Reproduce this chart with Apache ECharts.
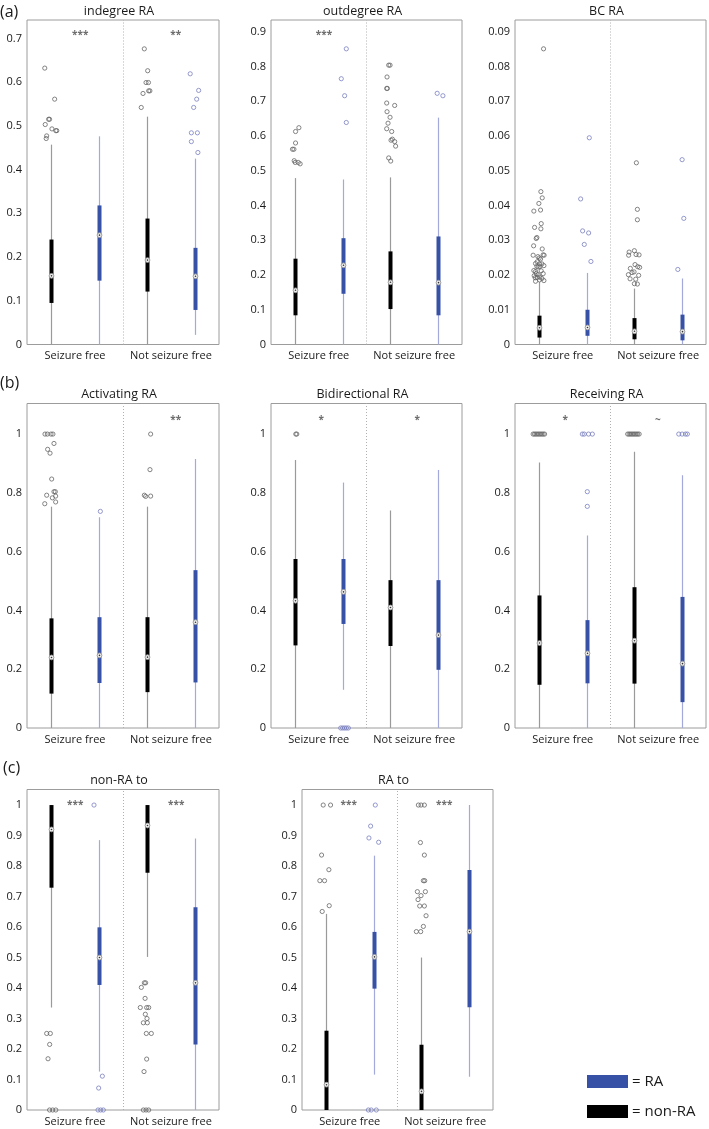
<!DOCTYPE html>
<html>
<head>
<meta charset="utf-8">
<script src="https://cdn.jsdelivr.net/npm/echarts@6/dist/echarts.min.js"></script>
<style>html,body{margin:0;padding:0;background:#fff}#c{width:709px;height:1129px}</style>
</head>
<body>
<div id="c"></div>
<script>
// ---------- data ----------
const categories = ['Seizure free', 'Not seizure free'];
const groupNames = ['non-RA', 'RA'];
// box order: 0 = SF non-RA, 1 = SF RA, 2 = NSF non-RA, 3 = NSF RA
// each box: [lowWhisker, q1, median, q3, highWhisker]
const indegreeBoxes = [
  [0, 0.095, 0.157, 0.240, 0.457],
  [0, 0.146, 0.250, 0.318, 0.476],
  [0, 0.121, 0.193, 0.288, 0.521],
  [0.022, 0.079, 0.156, 0.221, 0.425]
];
// outliers: [box, jitter, value]
const indegreeOutliers = [
  [0,-0.13,0.632],[0,0.076,0.561],[0,-0.05,0.515],[0,-0.03,0.515],[0,-0.12,0.503],[0,0.02,0.493],[0,0.10,0.489],[0,0.12,0.489],[0,-0.09,0.477],[0,-0.10,0.471],
  [2,-0.056,0.676],[2,0.014,0.626],[2,-0.02,0.599],[2,0.03,0.599],[2,-0.083,0.574],[2,0.035,0.580],[2,0.06,0.580],[2,-0.12,0.542],
  [3,-0.10,0.619],[3,0.076,0.581],[3,0.035,0.561],[3,-0.028,0.542],[3,-0.076,0.484],[3,0.05,0.484],[3,-0.076,0.464],[3,0.06,0.439]
];
const indegreeSig = [['***',1.11,0.712],['**',3.1,0.712]];

const outdegreeBoxes = [
  [0, 0.084, 0.156, 0.247, 0.479],
  [0, 0.146, 0.228, 0.306, 0.475],
  [0, 0.102, 0.179, 0.268, 0.481],
  [0, 0.084, 0.178, 0.311, 0.653]
];
const outdegreeOutliers = [
  [0,0.084,0.624],[0,0.014,0.613],[0,0.014,0.580],[0,-0.05,0.562],[0,-0.02,0.562],[0,-0.014,0.529],[0,0.007,0.524],[0,0.07,0.524],[0,0.11,0.520],
  [1,0.077,0.851],[1,-0.028,0.765],[1,0.042,0.716],[1,0.077,0.639],
  [2,-0.035,0.804],[2,-0.007,0.804],[2,-0.07,0.770],[2,-0.077,0.737],[2,-0.063,0.737],[2,-0.077,0.695],[2,0.09,0.688],[2,-0.07,0.670],[2,-0.007,0.654],[2,-0.049,0.637],[2,-0.077,0.621],[2,0.028,0.613],[2,0.042,0.591],[2,0.014,0.588],[2,0.09,0.584],[2,0.11,0.571],[2,-0.035,0.537],[2,0.007,0.528],
  [3,-0.02,0.723],[3,0.1,0.716]
];
const outdegreeSig = [['***',1.108,0.895]];

const bcBoxes = [
  [0, 0.0020, 0.0048, 0.0083, 0.0180],
  [0, 0.0025, 0.0049, 0.0100, 0.0206],
  [0, 0.0015, 0.0038, 0.0076, 0.0161],
  [0, 0.0012, 0.0037, 0.0086, 0.0190]
];
const bcOutliers = [
  [0,0.098,0.0851],[0,0.042,0.0440],[0,0.07,0.0422],[0,0,0.0406],[0,-0.105,0.0384],[0,0.035,0.0387],[0,-0.09,0.0337],[0,0.049,0.0348],[0,0.042,0.0333],[0,-0.056,0.0305],[0,-0.042,0.0308],[0,-0.11,0.0284],[0,0.07,0.0275],[0,-0.12,0.0257],[0,-0.02,0.0253],[0,0.007,0.0249],[0,0.09,0.0258],[0,0.11,0.0257],[0,0.035,0.0246],[0,-0.035,0.0238],[0,-0.07,0.0233],[0,0.014,0.0232],[0,0.063,0.0232],[0,-0.042,0.0225],[0,-0.014,0.0223],[0,0.02,0.0224],[0,0.105,0.0227],[0,-0.105,0.0213],[0,-0.07,0.0210],[0,0.049,0.0212],[0,-0.056,0.0204],[0,-0.098,0.0198],[0,-0.014,0.0201],[0,0.09,0.0204],[0,-0.077,0.0192],[0,-0.035,0.0193],[0,0.02,0.0194],[0,0.063,0.0190],[0,-0.07,0.0182],[0,0.105,0.0184],[0,0.014,0.0186],
  [1,0.056,0.0595],[1,-0.125,0.0419],[1,-0.084,0.0327],[1,0.042,0.0321],[1,-0.049,0.0288],[1,0.09,0.0239],
  [2,0.042,0.0523],[2,0.063,0.0389],[2,0.063,0.0359],[2,0,0.0270],[2,-0.11,0.0266],[2,-0.12,0.0257],[2,0.014,0.0230],[2,0.07,0.0224],[2,0.11,0.0222],[2,-0.084,0.0219],[2,-0.007,0.0209],[2,-0.125,0.0201],[2,0.09,0.0199],[2,-0.09,0.0189],[2,0.028,0.0188],[2,0,0.0175],[2,0.063,0.0174],[2,-0.049,0.0207],[2,0.098,0.0258],[2,0.035,0.0259],
  [3,0,0.0532],[3,0.035,0.0363],[3,-0.09,0.0216]
];
const bcSig = [];

const activatingBoxes = [
  [0, 0.117, 0.240, 0.373, 0.753],
  [0, 0.153, 0.247, 0.377, 0.717],
  [0, 0.122, 0.241, 0.377, 0.753],
  [0, 0.155, 0.360, 0.537, 0.915]
];
const activatingOutliers = [
  [0,-0.125,1.0],[0,-0.076,1.0],[0,0,1.0],[0,0.04,1.0],[0,0.062,0.968],[0,-0.07,0.948],[0,-0.02,0.935],[0,0.014,0.847],[0,0.062,0.804],[0,0.09,0.804],[0,-0.09,0.792],[0,0.097,0.789],[0,0.028,0.783],[0,-0.13,0.763],[0,0.097,0.769],
  [1,0.028,0.737],
  [2,0.076,1.0],[2,0.062,0.879],[2,-0.055,0.792],[2,-0.028,0.788],[2,0.076,0.789]
];
const activatingSig = [['**',3.1,1.055]];

const bidirectionalBoxes = [
  [0, 0.281, 0.433, 0.575, 0.912],
  [0.130, 0.354, 0.463, 0.575, 0.835],
  [0, 0.279, 0.410, 0.503, 0.740],
  [0, 0.198, 0.316, 0.503, 0.878]
];
const bidirectionalOutliers = [
  [0,0.02,1.0],[0,0.04,1.0],
  [1,-0.04,0],[1,0.0,0],[1,0.04,0],[1,0.08,0],[1,0.12,0]
];
const bidirectionalSig = [['*',1.05,1.055],['*',3.06,1.055]];

const receivingBoxes = [
  [0, 0.147, 0.289, 0.451, 0.903],
  [0, 0.152, 0.254, 0.367, 0.655],
  [0, 0.151, 0.297, 0.479, 0.940],
  [0, 0.088, 0.219, 0.446, 0.860]
];
const receivingOutliers = [
  [0,-0.12,1],[0,-0.09,1],[0,-0.06,1],[0,-0.03,1],[0,0,1],[0,0.03,1],[0,0.06,1],[0,0.09,1],[0,0.12,1],
  [1,0.014,0.804],[1,0.014,0.754],[1,-0.09,1],[1,-0.05,1],[1,0.04,1],[1,0.12,1],
  [2,-0.14,1],[2,-0.11,1],[2,-0.08,1],[2,-0.05,1],[2,-0.02,1],[2,0.01,1],[2,0.04,1],[2,0.07,1],[2,0.10,1],
  [3,-0.07,1],[3,0,1],[3,0.07,1],[3,0.11,1]
];
const receivingSig = [['*',1.05,1.055],['~',2.99,1.055]];

const nonRaToBoxes = [
  [0.336, 0.729, 0.920, 1.0, 1.0],
  [0.126, 0.410, 0.500, 0.599, 0.885],
  [0.502, 0.778, 0.933, 1.0, 1.0],
  [0, 0.215, 0.417, 0.665, 0.890]
];
const nonRaToOutliers = [
  [0,-0.09,0.251],[0,-0.014,0.251],[0,-0.028,0.215],[0,-0.062,0.168],[0,-0.03,0],[0,0.035,0],[0,0.1,0],
  [1,-0.104,1.0],[1,0.07,0.111],[1,-0.007,0.072],[1,-0.02,0],[1,0.035,0],[1,0.09,0],
  [2,-0.055,0.417],[2,-0.028,0.417],[2,-0.118,0.402],[2,-0.04,0.366],[2,-0.14,0.336],[2,-0.007,0.336],[2,0.035,0.336],[2,-0.035,0.314],[2,0,0.300],[2,-0.076,0.286],[2,0.007,0.286],[2,-0.014,0.251],[2,0.09,0.251],[2,-0.007,0.167],[2,-0.062,0.126],[2,-0.076,0],[2,-0.02,0],[2,0.035,0]
];
const nonRaToSig = [['***',1.005,1.005],['***',3.11,1.005]];

const raToBoxes = [
  [0, 0, 0.083, 0.260, 0.643],
  [0.116, 0.398, 0.502, 0.584, 0.834],
  [0, 0, 0.061, 0.214, 0.500],
  [0.109, 0.337, 0.585, 0.787, 1.0]
];
const raToOutliers = [
  [0,-0.056,1.0],[0,0.098,1.0],[0,-0.09,0.836],[0,0.063,0.788],[0,-0.126,0.752],[0,-0.028,0.752],[0,-0.077,0.651],[0,0.07,0.670],
  [1,0.035,1.0],[1,-0.063,0.931],[1,-0.098,0.892],[1,0.105,0.878],[1,-0.11,0],[1,-0.05,0],[1,0.056,0],
  [2,-0.063,1.0],[2,-0.007,1.0],[2,0.063,1.0],[2,-0.02,0.877],[2,0.063,0.836],[2,0.042,0.752],[2,0.07,0.752],[2,-0.084,0.716],[2,0.084,0.716],[2,-0.007,0.703],[2,-0.07,0.69],[2,-0.035,0.669],[2,0.063,0.669],[2,0.098,0.637],[2,0.042,0.602],[2,-0.105,0.585],[2,-0.014,0.585]
];
const raToSig = [['***',0.977,1.005],['***',2.98,1.005]];

// ---------- layout / styles ----------
const FONT = '"Open Sans", "DejaVu Sans", sans-serif';
const TXT = '#1a1a1a';
const STYLE = {
  'non-RA': { box: '#000000', whisker: '#9a9a9a', outlier: '#666666' },
  'RA': { box: '#3651a6', whisker: '#a3aadb', outlier: '#7a80c0' }
};

const panels = [
  { title: 'indegree RA', boxes: indegreeBoxes, outliers: indegreeOutliers, sig: indegreeSig, yMax: 0.742, yStep: 0.1, grid: { left: 27, top: 20, width: 192, height: 324.5 } },
  { title: 'outdegree RA', boxes: outdegreeBoxes, outliers: outdegreeOutliers, sig: outdegreeSig, yMax: 0.934, yStep: 0.1, grid: { left: 271, top: 20, width: 191, height: 324.5 } },
  { title: 'BC RA', boxes: bcBoxes, outliers: bcOutliers, sig: bcSig, yMax: 0.0934, yStep: 0.01, grid: { left: 515, top: 20, width: 191, height: 324.5 } },
  { title: 'Activating RA', boxes: activatingBoxes, outliers: activatingOutliers, sig: activatingSig, yMax: 1.104, yStep: 0.2, grid: { left: 27, top: 403.5, width: 192, height: 324.5 } },
  { title: 'Bidirectional RA', boxes: bidirectionalBoxes, outliers: bidirectionalOutliers, sig: bidirectionalSig, yMax: 1.104, yStep: 0.2, grid: { left: 271, top: 403.5, width: 191, height: 324.5 } },
  { title: 'Receiving RA', boxes: receivingBoxes, outliers: receivingOutliers, sig: receivingSig, yMax: 1.104, yStep: 0.2, grid: { left: 515, top: 403.5, width: 191, height: 324.5 } },
  { title: 'non-RA to', boxes: nonRaToBoxes, outliers: nonRaToOutliers, sig: nonRaToSig, yMax: 1.051, yStep: 0.1, grid: { left: 27, top: 789.5, width: 192, height: 320.5 } },
  { title: 'RA to', boxes: raToBoxes, outliers: raToOutliers, sig: raToSig, yMax: 1.051, yStep: 0.1, grid: { left: 302, top: 789.5, width: 191, height: 320.5 } }
];
const panelLetters = [['(a)', 0, 12], ['(b)', 0, 383], ['(c)', 3, 768]];

function boxRender(kind) {
  const st = STYLE[kind];
  return function (params, api) {
    const x = api.value(0);
    const lo = api.coord([x, api.value(1)]);
    const q1 = api.coord([x, api.value(2)]);
    const md = api.coord([x, api.value(3)]);
    const q3 = api.coord([x, api.value(4)]);
    const hi = api.coord([x, api.value(5)]);
    const cx = Math.round(lo[0]) + 0.5;
    return {
      type: 'group',
      children: [
        { type: 'line', shape: { x1: cx, y1: lo[1], x2: cx, y2: hi[1] }, style: { stroke: st.whisker, lineWidth: 1.2 } },
        { type: 'rect', shape: { x: cx - 2, y: q3[1], width: 4, height: q1[1] - q3[1] }, style: { fill: st.box } },
        { type: 'circle', shape: { cx: cx, cy: md[1], r: 2.4 }, style: { fill: '#f0f0f0', stroke: '#9a9a9a', lineWidth: 0.9 } },
        { type: 'circle', shape: { cx: cx, cy: md[1], r: 0.8 }, style: { fill: '#333' } }
      ]
    };
  };
}

const grid = [], xAxis = [], yAxis = [], series = [], graphic = [];
panels.forEach(function (p, i) {
  grid.push(Object.assign({ show: true, borderColor: '#9c9c9c', borderWidth: 1, backgroundColor: 'transparent' }, p.grid));
  xAxis.push({ type: 'value', gridIndex: i, min: 0, max: 4, show: false });
  xAxis.push({
    type: 'category', gridIndex: i, position: 'bottom', data: categories,
    axisLine: { show: false }, axisTick: { show: false }, splitLine: { show: false },
    axisLabel: { interval: 0, hideOverlap: false, margin: 6, fontSize: 11, color: TXT, fontFamily: FONT }
  });
  yAxis.push({
    type: 'value', gridIndex: i, min: 0, max: p.yMax, interval: p.yStep,
    axisLine: { show: false }, axisTick: { show: false }, splitLine: { show: false },
    axisLabel: { margin: 5, fontSize: 11, color: TXT, fontFamily: FONT, showMaxLabel: false }
  });
  groupNames.forEach(function (g, gi) {
    const idx = [gi, gi + 2];
    const s = {
      type: 'custom', name: g, xAxisIndex: 2 * i, yAxisIndex: i,
      itemStyle: { color: STYLE[g].box },
      renderItem: boxRender(g),
      encode: { x: 0, y: [1, 2, 3, 4, 5] },
      data: idx.map(function (b) { return [b + 0.5].concat(p.boxes[b]); }),
      z: 2, silent: true
    };
    if (gi === 0) {
      s.markLine = {
        silent: true, symbol: 'none', label: { show: false },
        lineStyle: { type: [1, 2], color: '#b0b0b0', width: 1 },
        data: [{ xAxis: 2 }]
      };
    }
    series.push(s);
    series.push({
      type: 'scatter', name: g + ' outliers', xAxisIndex: 2 * i, yAxisIndex: i,
      symbol: 'circle', symbolSize: 4.2, clip: false, silent: true, z: 3,
      itemStyle: { color: 'rgba(255,255,255,0)', borderColor: STYLE[g].outlier, borderWidth: 1 },
      data: p.outliers.filter(function (o) { return idx.indexOf(o[0]) >= 0; })
        .map(function (o) { return [o[0] + 0.5 + o[1], o[2]]; })
    });
  });
  series.push({
    type: 'scatter', name: 'sig', xAxisIndex: 2 * i, yAxisIndex: i,
    symbolSize: 1, clip: false, silent: true, z: 4,
    itemStyle: { color: 'rgba(0,0,0,0)' },
    label: { show: true, position: 'inside', offset: [0, 2], formatter: function (d) { return d.name; }, fontSize: 10, fontWeight: 'bold', color: '#4a4a4a', fontFamily: FONT },
    data: p.sig.map(function (s) { return { name: s[0], value: [s[1], s[2]] }; })
  });
  graphic.push({
    type: 'text', x: p.grid.left + p.grid.width / 2 - 4, y: p.grid.top - 9,
    style: { text: p.title, textAlign: 'center', textVerticalAlign: 'middle', fontSize: 12.5, fontFamily: FONT, fill: TXT }
  });
});
panelLetters.forEach(function (l) {
  graphic.push({ type: 'text', x: l[1], y: l[2], style: { text: l[0], textVerticalAlign: 'middle', fontSize: 16, fontFamily: FONT, fill: TXT } });
});

const chart = echarts.init(document.getElementById('c'), null, { renderer: 'canvas' });
chart.setOption({
  animation: false,
  backgroundColor: '#ffffff',
  grid: grid, xAxis: xAxis, yAxis: yAxis, series: series, graphic: graphic,
  legend: {
    data: [{ name: 'RA', icon: 'rect' }, { name: 'non-RA', icon: 'rect' }],
    orient: 'vertical', left: 582, top: 1069, itemWidth: 41, itemHeight: 13, itemGap: 15,
    selectedMode: false, formatter: '= {name}',
    textStyle: { fontSize: 15, color: TXT, fontFamily: FONT, padding: [0, 0, 0, -1] }
  }
});
</script>
</body>
</html>
